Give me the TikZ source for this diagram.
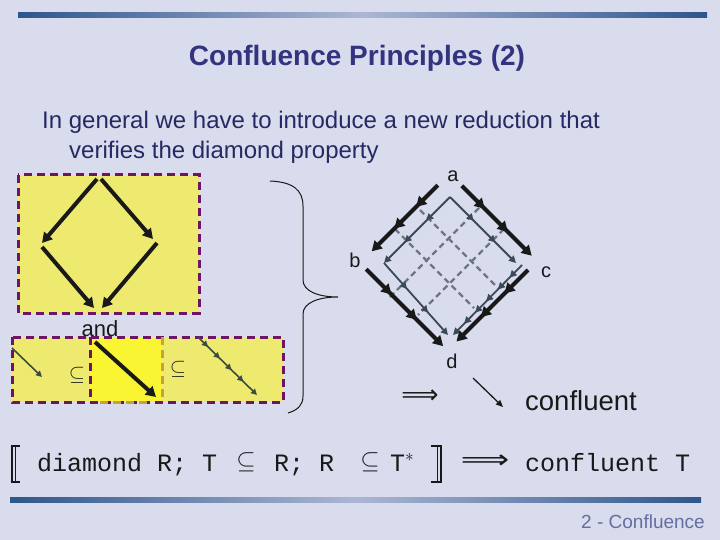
\documentclass[tikz,border=0pt]{standalone}
\usepackage{fontspec}
\setmainfont{Liberation Sans}
\newfontfamily\monof{Liberation Mono}
\newfontfamily\symf{DejaVu Sans}
\usetikzlibrary{arrows.meta,decorations.markings,calc}
\definecolor{bg}{RGB}{217,220,236}
\definecolor{barblue}{RGB}{46,86,140}
\definecolor{barlight}{RGB}{172,182,212}
\definecolor{titleblue}{RGB}{51,51,128}
\definecolor{bodyblue}{RGB}{40,40,100}
\definecolor{boxyellow}{RGB}{238,234,112}
\definecolor{brightyellow}{RGB}{250,245,50}
\definecolor{boxpurple}{RGB}{110,20,100}
\definecolor{goldedge}{RGB}{200,160,60}
\definecolor{slate}{RGB}{58,74,88}
\definecolor{dashgray}{RGB}{112,118,126}
\definecolor{arrowgreen}{RGB}{60,76,64}
\definecolor{footer}{RGB}{100,110,160}
\definecolor{ink}{RGB}{25,25,25}
\tikzset{
  boxborder/.style={draw=boxpurple, line width=3pt, dash pattern=on 8pt off 5pt},
  goldborder/.style={draw=goldedge, line width=3pt, dash pattern=on 8pt off 5pt},
  bigarrow/.style={line width=4pt, draw=ink, -{Triangle[length=10pt,width=11pt]}},
  outerarrow/.style={line width=4pt, draw=ink, -{Triangle[length=10pt,width=11pt]},
    postaction={decorate}, decoration={markings,
      mark=at position 0.33 with {\arrow[ink]{Triangle[length=10pt,width=11pt]}},
      mark=at position 0.66 with {\arrow[ink]{Triangle[length=10pt,width=11pt]}}}},
  innerarrow/.style={line width=1.8pt, draw=slate, -{Triangle[length=7pt,width=7pt]},
    postaction={decorate}, decoration={markings,
      mark=at position 0.36 with {\arrow[slate]{Triangle[length=7pt,width=7pt]}},
      mark=at position 0.69 with {\arrow[slate]{Triangle[length=7pt,width=7pt]}}}},
  innerarrowfive/.style={line width=1.8pt, draw=slate, -{Triangle[length=7pt,width=7pt]},
    postaction={decorate}, decoration={markings,
      mark=at position 0.18 with {\arrow[slate]{Triangle[length=7pt,width=7pt]}},
      mark=at position 0.35 with {\arrow[slate]{Triangle[length=7pt,width=7pt]}},
      mark=at position 0.52 with {\arrow[slate]{Triangle[length=7pt,width=7pt]}},
      mark=at position 0.68 with {\arrow[slate]{Triangle[length=7pt,width=7pt]}},
      mark=at position 0.84 with {\arrow[slate]{Triangle[length=7pt,width=7pt]}}}},
  gridline/.style={line width=2.2pt, draw=dashgray, dash pattern=on 6pt off 4pt},
  thinarrow/.style={line width=1.6pt, draw=arrowgreen, -{Triangle[length=6pt,width=6pt]}},
  steparrow/.style={line width=1.6pt, draw=arrowgreen, -{Triangle[length=6pt,width=6pt]},
    postaction={decorate}, decoration={markings,
      mark=at position 0.17 with {\arrow[arrowgreen]{Triangle[length=6pt,width=6pt]}},
      mark=at position 0.37 with {\arrow[arrowgreen]{Triangle[length=6pt,width=6pt]}},
      mark=at position 0.57 with {\arrow[arrowgreen]{Triangle[length=6pt,width=6pt]}},
      mark=at position 0.77 with {\arrow[arrowgreen]{Triangle[length=6pt,width=6pt]}}}},
  lbl/.style={text=ink, font=\fontsize{20}{24}\selectfont, inner sep=0pt},
  formula/.style={text=ink, font=\monof\fontsize{25}{30}\selectfont, inner sep=0pt, anchor=base west},
}
\begin{document}
\begin{tikzpicture}[x=1pt, y=-1pt]
\fill[bg] (0,0) rectangle (720,540);
\useasboundingbox (0,0) rectangle (720,540);
% bars
\shade[left color=barblue, right color=barblue, middle color=barlight] (18,12.5) rectangle (707,17.5);
\shade[left color=barblue, right color=barblue, middle color=barlight] (10,497) rectangle (701,502);
% title and text
\node[font=\bfseries\fontsize{28}{33}\selectfont, text=titleblue, inner sep=0pt] (title) at (357,58) {Confluence Principles (2)};
\node[anchor=base west, font=\fontsize{24}{29}\selectfont, text=bodyblue, inner sep=0pt] (line1) at (42,129) {In general we have to introduce a new reduction that};
\node[anchor=base west, font=\fontsize{24}{29}\selectfont, text=bodyblue, inner sep=0pt] (line2) at (69,159) {verifies the diamond property};
% top-left yellow box
\fill[boxyellow] (18,175) rectangle (199,313);
\draw[boxborder] (18,175) rectangle (199,313);
\coordinate (t1) at (97,179);
\coordinate (t2) at (101,179);
\coordinate (lft) at (42,243);
\coordinate (lft2) at (42,247);
\coordinate (rgt) at (153,239);
\coordinate (rgt2) at (157,243);
\coordinate (bot1) at (94,308);
\coordinate (bot2) at (102,308);
\draw[bigarrow] (t1) -- (lft);
\draw[bigarrow] (t2) -- (rgt);
\draw[bigarrow] (lft2) -- (bot1);
\draw[bigarrow] (rgt2) -- (bot2);
% and
\node[lbl, font=\fontsize{22}{26}\selectfont] (and) at (100,329) {and};
% bottom box
\fill[boxyellow] (12,337) rectangle (283,402);
\fill[brightyellow] (90,337) rectangle (162,402);
\draw[boxborder] (12,337) rectangle (283,402);
\draw[boxborder] (90,337) -- (90,402);
\draw[goldborder] (162,337) -- (162,402);
\draw[goldborder] (100,402) -- (150,402);
\coordinate (s1) at (12,348);
\coordinate (e1) at (42,377);
\draw[thinarrow] (s1) -- (e1);
\node[text=ink, font=\fontsize{22}{26}\selectfont, inner sep=0pt] (sub1) at (77,375) {$\subseteq$};
\coordinate (s2) at (95,342);
\coordinate (e2) at (156,397);
\draw[line width=4pt, draw=ink, -{Triangle[length=10pt,width=11pt]}] (s2) -- (e2);
\node[text=ink, font=\fontsize{22}{26}\selectfont, inner sep=0pt] (sub2) at (178,369) {$\subseteq$};
\coordinate (s3) at (198,337);
\coordinate (e3) at (257,395);
\draw[steparrow] (s3) -- (e3);
% brace
\draw[line width=1pt, draw=ink] (270,181) .. controls (293,182) and (303,190) .. (303,206) -- (303,280)
   .. controls (303,291) and (318,297) .. (338,297)
   .. controls (318,297) and (303,303) .. (303,314) -- (303,396)
   .. controls (303,405) and (298,410) .. (288,413);
% right diamond
\node[lbl] (a) at (453,176) {a};
\node[lbl] (b) at (355,260) {b};
\node[lbl] (c) at (546,272) {c};
\node[lbl] (d) at (452,361) {d};
\coordinate (A) at (449.5,173.5);
\coordinate (B) at (360,263);
\coordinate (C) at (537,261);
\coordinate (D) at (447.5,350.5);
% dashed grid
\draw[gridline] (395,229) -- (474,308);
\draw[gridline] (420,210) -- (498,288);
\draw[gridline] (479,208) -- (389,298);
\draw[gridline] (504,229) -- (418,315);
% inner solid diamond
\coordinate (IT) at (450,197);
\coordinate (IL) at (384,263);
\coordinate (IR) at (516,263);
\coordinate (IR2) at (522,265);
\coordinate (IB) at (448,335);
\coordinate (IB2) at (453,335);
\draw[innerarrow] (IT) -- (IL);
\draw[innerarrow] (IT) -- (IR);
\draw[innerarrow] (IL) -- (IB);
\draw[innerarrowfive] (IR2) -- (IB2);
% outer thick arrows
\draw[outerarrow] ($(A)!0.13!(B)$) -- ($(A)!0.87!(B)$);
\draw[outerarrow] ($(A)!0.14!(C)$) -- ($(A)!0.94!(C)$);
\draw[outerarrow] ($(B)!0.07!(D)$) -- ($(B)!0.95!(D)$);
\draw[outerarrow] ($(C)!0.10!(D)$) -- ($(C)!0.90!(D)$);
% implies confluent
\node[text=ink, font=\symf\fontsize{26}{30}\selectfont, inner sep=0pt] (impl) at (420,397) {⟹};
\coordinate (cs) at (473,378);
\coordinate (ce) at (503,407);
\draw[line width=1.3pt, draw=ink, -{Triangle[length=7pt,width=6pt]}] (cs) -- (ce);
\node[anchor=west, text=ink, font=\fontsize{27.5}{32}\selectfont, inner sep=0pt] (confl) at (525,401) {confluent};
% formula
\draw[line width=1.2pt, draw=ink] (20,446) -- (12,446) -- (12,482) -- (20,482);
\draw[line width=0.8pt, draw=ink] (15.5,446) -- (15.5,482);
\node[formula] (f1) at (37,471) {diamond R; T};
\node[text=ink, font=\fontsize{24}{28}\selectfont, inner sep=0pt] (fs1) at (246,462) {$\subseteq$};
\node[formula] (f2) at (274,471) {R; R};
\node[text=ink, font=\fontsize{24}{28}\selectfont, inner sep=0pt] (fs2) at (370,462) {$\subseteq$};
\node[formula] (f3) at (390,471) {T$^{*}$};
\draw[line width=1.2pt, draw=ink] (431,446) -- (441,446) -- (441,482) -- (431,482);
\draw[line width=0.8pt, draw=ink] (437.5,446) -- (437.5,482);
\node[text=ink, font=\symf\fontsize{26}{30}\selectfont, inner sep=0pt] (fimpl) at (485,462) {\scalebox{1.3}[1]{⟹}};
\node[formula] (f4) at (525,471) {confluent T};
% footer
\node[anchor=base east, text=footer, font=\fontsize{19}{22}\selectfont, inner sep=0pt] (foot) at (705,528) {2 - Confluence};
\end{tikzpicture}
\end{document}
